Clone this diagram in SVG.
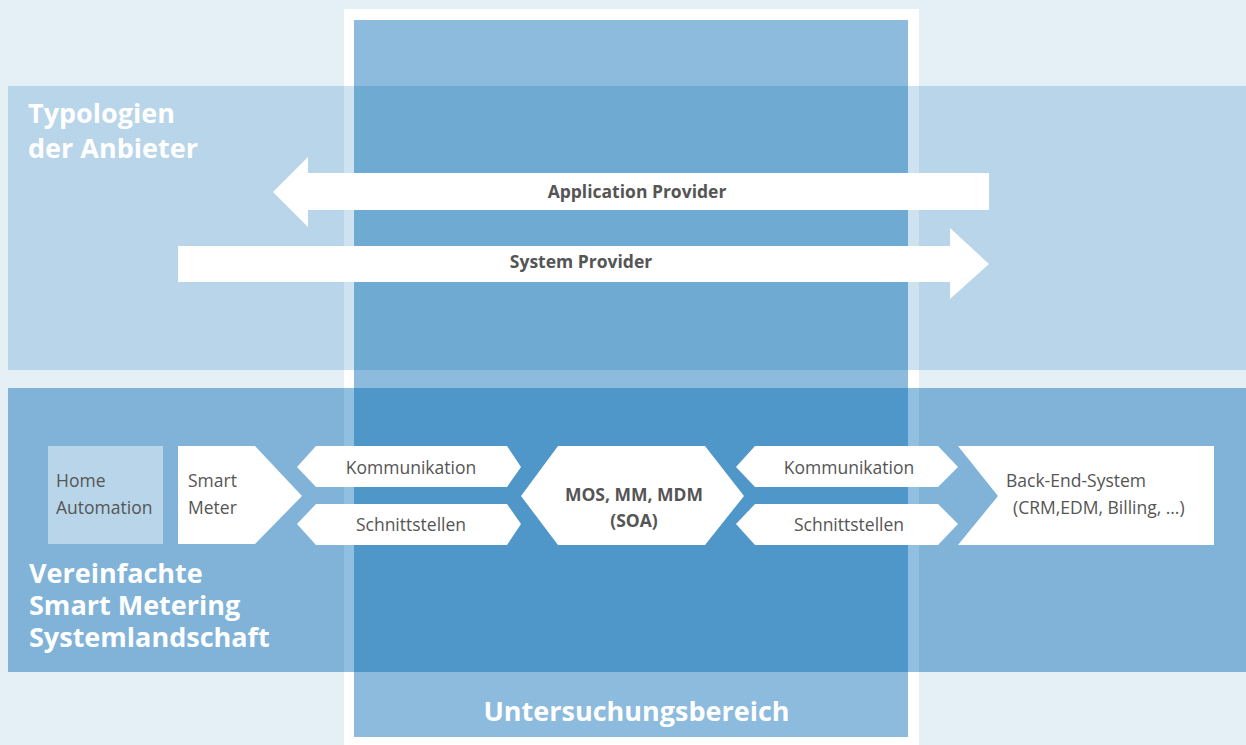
<svg xmlns="http://www.w3.org/2000/svg" width="1246" height="745" viewBox="0 0 1246 745">
<style>
.sm{font-family:"Open Sans","Liberation Sans",sans-serif;font-size:17.5px;fill:#555555}
.smb{font-family:"Open Sans","Liberation Sans",sans-serif;font-size:17.5px;font-weight:bold;fill:#555555}
.ttl{font-family:"Open Sans","Liberation Sans",sans-serif;font-size:27px;font-weight:bold;fill:#ffffff}
.wh{fill:#ffffff}
</style>
<g id="background">
<rect x="0" y="0" width="1246" height="745" fill="#e4eff6"/>
<rect x="344" y="9" width="575" height="736" fill="#ffffff"/>
<rect x="354" y="20" width="554" height="717" fill="#8cbbdd"/>
</g>
<g id="band-typologien">
<rect x="8" y="86" width="1238" height="284" fill="#b9d5e9"/>
<rect x="344" y="86" width="10" height="284" fill="#cfe2f0"/>
<rect x="908" y="86" width="11" height="284" fill="#cfe2f0"/>
<rect x="354" y="86" width="554" height="284" fill="#6faad3"/>
<text class="ttl" x="28" y="123">Typologien</text>
<text class="ttl" x="28" y="158">der Anbieter</text>
</g>
<g id="band-systemlandschaft">
<rect x="8" y="388" width="1238" height="284" fill="#80b3d7"/>
<rect x="344" y="388" width="10" height="284" fill="#90bfe0"/>
<rect x="908" y="388" width="11" height="284" fill="#90bfe0"/>
<rect x="354" y="388" width="554" height="284" fill="#4f96c9"/>
<text class="ttl" x="29" y="583">Vereinfachte</text>
<text class="ttl" x="29" y="615">Smart Metering</text>
<text class="ttl" x="29" y="647">Systemlandschaft</text>
</g>
<g id="untersuchungsbereich">
<text class="ttl" x="636.5" y="721" text-anchor="middle" font-size="28">Untersuchungsbereich</text>
</g>
<g id="connectors">
<g id="application-provider">
<polygon class="wh" points="273,192 308,157 308,173 989,173 989,210 308,210 308,227"/>
<text class="smb" x="637" y="198" text-anchor="middle">Application Provider</text>
</g>
<g id="system-provider">
<polygon class="wh" points="178,246 950,246 950,228 989,264 950,299 950,282 178,282"/>
<text class="smb" x="581" y="268" text-anchor="middle">System Provider</text>
</g>
</g>
<g id="home-automation">
<rect x="48" y="446" width="115" height="98" fill="#b9d5e9"/>
<text class="sm" x="56" y="487">Home</text>
<text class="sm" x="56" y="514">Automation</text>
</g>
<g id="smart-meter">
<polygon class="wh" points="178,446 255,446 302,496 255,544 178,544"/>
<text class="sm" x="188" y="487">Smart</text>
<text class="sm" x="188" y="514">Meter</text>
</g>
<g id="kommunikation-1">
<polygon class="wh" points="297,467 316,446 507,446 521,467 507,487 316,487"/>
<text class="sm" x="411" y="474" text-anchor="middle">Kommunikation</text>
</g>
<g id="schnittstellen-1">
<polygon class="wh" points="297,524 316,504 507,504 521,524 507,545 316,545"/>
<text class="sm" x="411" y="531" text-anchor="middle">Schnittstellen</text>
</g>
<g id="mos">
<polygon class="wh" points="521,496 558,446 705,446 744,496 705,545 558,545"/>
<text class="smb" x="634" y="501" text-anchor="middle" font-size="18.5">MOS, MM, MDM</text>
<text class="smb" x="634" y="527" text-anchor="middle" font-size="18.5">(SOA)</text>
</g>
<g id="kommunikation-2">
<polygon class="wh" points="736,467 755,446 938,446 958,467 938,487 755,487"/>
<text class="sm" x="849" y="474" text-anchor="middle">Kommunikation</text>
</g>
<g id="schnittstellen-2">
<polygon class="wh" points="736,524 755,504 938,504 958,524 938,545 755,545"/>
<text class="sm" x="849" y="531" text-anchor="middle">Schnittstellen</text>
</g>
<g id="back-end">
<polygon class="wh" points="958,446 1214,446 1214,545 958,545 998,496"/>
<text class="sm" x="1006" y="487">Back-End-System</text>
<text class="sm" x="1013" y="514">(CRM,EDM, Billing, …)</text>
</g>
</svg>
